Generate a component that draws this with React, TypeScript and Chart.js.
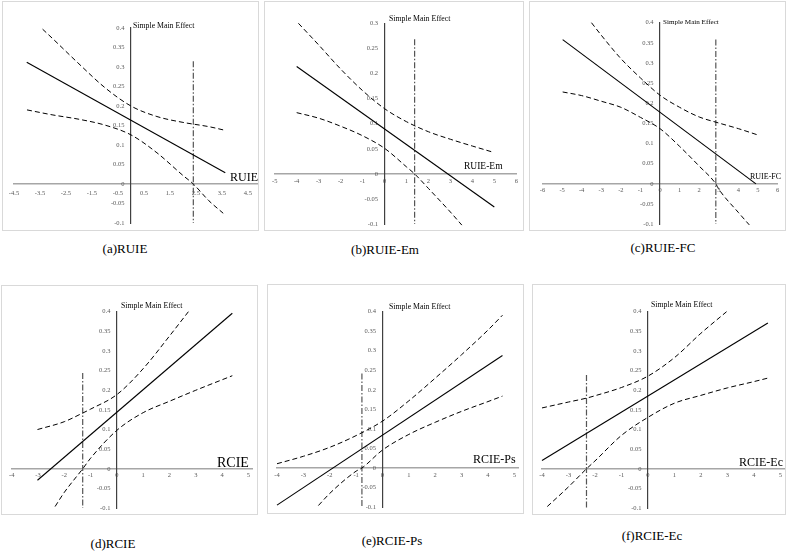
import React, { useEffect, useRef } from 'react';
import { Chart, registerables } from 'chart.js';
Chart.register(...registerables);

const SERIF = '"Liberation Serif", "Times New Roman", serif';

// ---------- tick labels ----------
const yTicksTo04 = [-0.1, -0.05, 0, 0.05, 0.1, 0.15, 0.2, 0.25, 0.3, 0.35, 0.4];
const yTicksTo03 = [-0.1, -0.05, 0, 0.05, 0.1, 0.15, 0.2, 0.25, 0.3];
const aXTicks = [-4.5, -3.5, -2.5, -1.5, -0.5, 0.5, 1.5, 2.5, 3.5, 4.5];
const bXTicks = [-5, -4, -3, -2, -1, 0, 1, 2, 3, 4, 5, 6];
const cXTicks = [-6, -5, -4, -3, -2, -1, 0, 1, 2, 3, 4, 5, 6];
const dXTicks = [-4, -3, -2, -1, 0, 1, 2, 3, 4, 5];

// ---------- (a) RUIE ----------
const aLineX = [-4.01, 3.63];
const aLineY = [0.312, 0.029];
const aUpperX = [-3.4, -3, -2, -1, 0, 1, 2, 3, 3.6];
const aUpperY = [0.397, 0.372, 0.308, 0.247, 0.2, 0.173, 0.158, 0.147, 0.138];
const aLowerX = [-4, -3, -2, -1, 0, 1, 2, 2.4, 3, 3.55];
const aLowerY = [0.19, 0.177, 0.166, 0.151, 0.126, 0.08, 0.022, 0, -0.043, -0.075];
const aCut = [2.4, 0.315];

// ---------- (b) RUIE-Em ----------
const bLineX = [-4, 5];
const bLineY = [0.214, -0.066];
const bUpperX = [-3.92, -3, -2, -1, 0, 1, 2, 3, 4, 4.96];
const bUpperY = [0.3, 0.257, 0.209, 0.166, 0.13, 0.104, 0.084, 0.069, 0.0555, 0.043];
const bLowerX = [-4, -3, -2, -1, 0, 1, 1.37, 2, 3, 3.52];
const bLowerY = [0.122, 0.111, 0.095, 0.076, 0.051, 0.014, 0, -0.029, -0.076, -0.102];
const bCut = [1.37, 0.268];

// ---------- (c) RUIE-FC ----------
const cLineX = [-4.97, 4.9];
const cLineY = [0.358, 0];
const cUpperX = [-3.5, -3, -2, -1, 0, 1, 2, 3, 4, 4.95];
const cUpperY = [0.4, 0.369, 0.311, 0.263, 0.22, 0.19, 0.166, 0.151, 0.137, 0.122];
const cLowerX = [-4.97, -4, -3, -2, -1, 0, 1, 2, 2.85, 3, 4, 4.56];
const cLowerY = [0.228, 0.219, 0.205, 0.19, 0.165, 0.137, 0.093, 0.044, 0, -0.013, -0.071, -0.102];
const cCut = [2.85, 0.358];

// ---------- (d) RCIE ----------
const dLineX = [-3.02, 4.39];
const dLineY = [-0.029, 0.396];
const dUpperX = [-3.02, -2, -1.3, -1, 0, 1, 2, 2.72];
const dUpperY = [0.1, 0.12, 0.142, 0.152, 0.189, 0.255, 0.338, 0.4];
const dLowerX = [-2.35, -2, -1.3, -1, 0, 1, 2, 3, 4.39];
const dLowerY = [-0.096, -0.06, 0, 0.027, 0.098, 0.143, 0.172, 0.2, 0.237];
const dCut = [-1.3, 0.244];

// ---------- (e) RCIE-Ps ----------
const eLineX = [-4, 4.55];
const eLineY = [-0.095, 0.288];
const eUpperX = [-4, -3, -2, -1, 0, 1, 2, 3, 4, 4.55];
const eUpperY = [0.011, 0.03, 0.053, 0.083, 0.12, 0.172, 0.23, 0.29, 0.353, 0.391];
const eLowerX = [-2.43, -2, -1, -0.78, 0, 1, 2, 3, 4, 4.55];
const eLowerY = [-0.096, -0.065, -0.008, 0, 0.046, 0.086, 0.117, 0.145, 0.17, 0.184];
const eCut = [-0.78, 0.242];

// ---------- (f) RCIE-Ec ----------
const fLineX = [-4, 4.53];
const fLineY = [0.021, 0.371];
const fUpperX = [-4, -3, -2.32, -2, -1, 0, 1, 2, 2.97];
const fUpperY = [0.155, 0.17, 0.18, 0.186, 0.207, 0.236, 0.283, 0.345, 0.4];
const fLowerX = [-3.8, -3, -2.32, -2, -1, 0, 1, 2, 3, 4, 4.53];
const fLowerY = [-0.096, -0.046, 0, 0.02, 0.085, 0.131, 0.167, 0.187, 0.206, 0.222, 0.231];
const fCut = [-2.32, 0.239];

const zip = (xs: number[], ys: number[]) => xs.map((x, i) => ({ x, y: ys[i] }));
const fmt = (v: number) => String(Math.round(v * 100) / 100);

type Spec = {
  box: [number, number, number, number]; // left, top, width, height
  area: [number, number, number, number]; // l, t, r, b (page px)
  xMin: number; xMax: number; yMax: number;
  xTicks: number[]; yTicks: number[];
  lineX: number[]; lineY: number[];
  upperX: number[]; upperY: number[];
  lowerX: number[]; lowerY: number[];
  cut: number[];
  xPad: number;
};

const specs: Spec[] = [
  { box: [2, 1, 257, 230], area: [14, 28, 257, 223], xMin: -4.5, xMax: 4.85, yMax: 0.4,
    xTicks: aXTicks, yTicks: yTicksTo04, lineX: aLineX, lineY: aLineY, upperX: aUpperX, upperY: aUpperY,
    lowerX: aLowerX, lowerY: aLowerY, cut: aCut, xPad: 5 },
  { box: [264, 1, 260, 230], area: [274.7, 23.3, 516.3, 225.6], xMin: -5, xMax: 6, yMax: 0.3,
    xTicks: bXTicks, yTicks: yTicksTo03, lineX: bLineX, lineY: bLineY, upperX: bUpperX, upperY: bUpperY,
    lowerX: bLowerX, lowerY: bLowerY, cut: bCut, xPad: 3.8 },
  { box: [529, 1, 257, 230], area: [542.5, 22.7, 777.5, 226.8], xMin: -6, xMax: 6, yMax: 0.4,
    xTicks: cXTicks, yTicks: yTicksTo04, lineX: cLineX, lineY: cLineY, upperX: cUpperX, upperY: cUpperY,
    lowerX: cLowerX, lowerY: cLowerY, cut: cCut, xPad: 2.8 },
  { box: [1, 285, 257, 230], area: [11.7, 311.7, 252.3, 508.7], xMin: -4, xMax: 5.15, yMax: 0.4,
    xTicks: dXTicks, yTicks: yTicksTo04, lineX: dLineX, lineY: dLineY, upperX: dUpperX, upperY: dUpperY,
    lowerX: dLowerX, lowerY: dLowerY, cut: dCut, xPad: 3 },
  { box: [267, 284, 257, 230], area: [277, 311.7, 518.3, 508.7], xMin: -4, xMax: 5.15, yMax: 0.4,
    xTicks: dXTicks, yTicks: yTicksTo04, lineX: eLineX, lineY: eLineY, upperX: eUpperX, upperY: eUpperY,
    lowerX: eLowerX, lowerY: eLowerY, cut: eCut, xPad: 3 },
  { box: [532, 284, 254, 231], area: [542, 311.7, 784.3, 508.7], xMin: -4, xMax: 5.15, yMax: 0.4,
    xTicks: dXTicks, yTicks: yTicksTo04, lineX: fLineX, lineY: fLineY, upperX: fUpperX, upperY: fUpperY,
    lowerX: fLowerX, lowerY: fLowerY, cut: fCut, xPad: 3 },
];

function Panel({ spec }: { spec: Spec }) {
  const ref = useRef<HTMLCanvasElement | null>(null);
  useEffect(() => {
    if (!ref.current) return;
    const [bl, bt, bw, bh] = spec.box;
    const [l, t, r, b] = spec.area;
    const tickFont = { family: SERIF, size: 6.5 };
    const chart = new Chart(ref.current, {
      type: 'scatter',
      data: {
        datasets: [
          { data: zip(spec.lineX, spec.lineY), showLine: true, borderColor: '#000', borderWidth: 1.1,
            pointRadius: 0, clip: false } as any,
          { data: zip(spec.upperX, spec.upperY), showLine: true, borderColor: '#000', borderWidth: 1,
            borderDash: [5, 3], pointRadius: 0, cubicInterpolationMode: 'monotone', clip: false } as any,
          { data: zip(spec.lowerX, spec.lowerY), showLine: true, borderColor: '#000', borderWidth: 1,
            borderDash: [5, 3], pointRadius: 0, cubicInterpolationMode: 'monotone', clip: false } as any,
          { data: [{ x: spec.cut[0], y: spec.cut[1] }, { x: spec.cut[0], y: -0.1 }], showLine: true,
            borderColor: '#555', borderWidth: 1.2, borderDash: [6, 2, 1.5, 2], pointRadius: 0, clip: false } as any,
        ],
      },
      options: {
        responsive: false,
        maintainAspectRatio: false,
        animation: false,
        events: [],
        layout: { padding: { left: l - bl, top: t - bt, right: bl + bw - r, bottom: bt + bh - b } },
        plugins: { legend: { display: false }, tooltip: { enabled: false } },
        scales: {
          x: {
            type: 'linear', min: spec.xMin, max: spec.xMax, position: { y: 0 } as any,
            grid: { display: false, drawTicks: false },
            border: { display: true, color: '#a6a6a6', width: 1.5 },
            ticks: { autoSkip: false, maxRotation: 0, padding: spec.xPad, font: tickFont, color: '#595959',
              callback: (v: any) => fmt(Number(v)) },
            afterBuildTicks: (s: any) => { s.ticks = spec.xTicks.map((v) => ({ value: v })); },
            afterFit: (s: any) => { s.height = 0; },
          },
          y: {
            type: 'linear', min: -0.1, max: spec.yMax, position: { x: 0 } as any,
            grid: { display: false, drawTicks: false },
            border: { display: true, color: '#404040', width: 1.2 },
            ticks: { autoSkip: false, font: tickFont, color: '#595959',
              callback: (v: any) => fmt(Number(v)) + '\u2003' },
            afterBuildTicks: (s: any) => { s.ticks = spec.yTicks.map((v) => ({ value: v })); },
            afterFit: (s: any) => { s.width = 0; },
          },
        },
      } as any,
    });
    return () => chart.destroy();
  }, [spec]);
  const [bl, bt, bw, bh] = spec.box;
  return (
    <>
      <div style={{ position: 'absolute', left: bl, top: bt, width: bw, height: bh, boxSizing: 'border-box',
        border: '1px solid #d9d9d9' }} />
      <canvas ref={ref} width={bw} height={bh}
        style={{ position: 'absolute', left: bl, top: bt, width: bw, height: bh }} />
    </>
  );
}

type Txt = { text: string; x: number; cy: number; size: number; center?: boolean };
const texts: Txt[] = [
  { text: 'Simple Main Effect', x: 133, cy: 26, size: 7.8 },
  { text: 'RUIE', x: 230, cy: 177, size: 12 },
  { text: 'Simple Main Effect', x: 389, cy: 19, size: 7.8 },
  { text: 'RUIE-Em', x: 464, cy: 167, size: 9.5 },
  { text: 'Simple Main Effect', x: 663, cy: 23, size: 7.1 },
  { text: 'RUIE-FC', x: 750, cy: 177, size: 8 },
  { text: 'Simple Main Effect', x: 121, cy: 306, size: 7.8 },
  { text: 'RCIE', x: 217, cy: 463, size: 14 },
  { text: 'Simple Main Effect', x: 389, cy: 307, size: 7.8 },
  { text: 'RCIE-Ps', x: 473, cy: 459, size: 12 },
  { text: 'Simple Main Effect', x: 651, cy: 305, size: 7.8 },
  { text: 'RCIE-Ec', x: 739, cy: 462, size: 12 },
  { text: '(a)RUIE', x: 125, cy: 248, size: 13, center: true },
  { text: '(b)RUIE-Em', x: 385, cy: 249, size: 13, center: true },
  { text: '(c)RUIE-FC', x: 663, cy: 247, size: 13, center: true },
  { text: '(d)RCIE', x: 113, cy: 543, size: 13, center: true },
  { text: '(e)RCIE-Ps', x: 392, cy: 540, size: 13, center: true },
  { text: '(f)RCIE-Ec', x: 652, cy: 535, size: 13, center: true },
];

export default function App() {
  return (
    <div style={{ position: 'absolute', left: 0, top: 0, width: 791, height: 551, background: '#fff',
      overflow: 'hidden', fontFamily: SERIF, color: '#000' }}>
      {specs.map((s, i) => <Panel key={i} spec={s} />)}
      {texts.map((t, i) => (
        <div key={'t' + i} style={{ position: 'absolute', left: t.x, top: t.cy - t.size / 2, fontSize: t.size,
          lineHeight: 1, whiteSpace: 'nowrap', transform: t.center ? 'translateX(-50%)' : undefined }}>
          {t.text}
        </div>
      ))}
    </div>
  );
}
